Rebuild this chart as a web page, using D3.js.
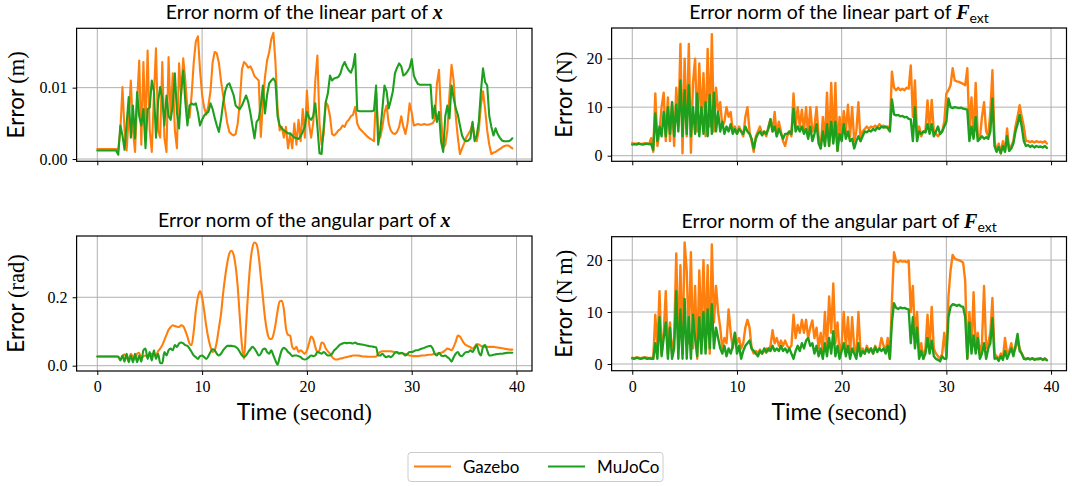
<!DOCTYPE html>
<html><head><meta charset="utf-8">
<script src="https://cdn.jsdelivr.net/npm/d3@7"></script>
<style>html,body{margin:0;padding:0;background:#fff}svg{display:block}</style>
</head><body>
<svg id="chart" width="1072" height="486"></svg>
<script>
// ---- data (sampled every 0.2 s, t = 0 ... 39.6) ----
const sampleTimes = d3.range(0, 39.61, 0.2);
const xTicks = [0, 10, 20, 30, 40];
const yTicksLinX = [0, 0.01];
const yTicksLinF = [0, 10, 20];
const yTicksAngX = [0, 0.2];
const yTicksAngF = [0, 10, 20];
const seriesNames = ["Gazebo", "MuJoCo"];

const linXGazebo = [
0.0014,0.0014,0.0014,0.0014,0.0014,0.0014,0.0014,0.0014,0.0014,0.0014,
0.0014,0.0040,0.0101,0.0040,0.0012,0.0060,0.0110,0.0040,0.0010,0.0080,
0.0138,0.0020,0.0136,0.0040,0.0152,0.0040,0.0010,0.0090,0.0155,0.0040,
0.0030,0.0136,0.0030,0.0010,0.0143,0.0060,0.0120,0.0040,0.0015,0.0134,
0.0090,0.0141,0.0110,0.0070,0.0058,0.0090,0.0135,0.0165,0.0172,0.0125,
0.0090,0.0072,0.0062,0.0075,0.0095,0.0135,0.0150,0.0148,0.0135,0.0110,
0.0090,0.0070,0.0050,0.0038,0.0035,0.0033,0.0035,0.0050,0.0080,0.0125,
0.0136,0.0133,0.0128,0.0130,0.0124,0.0116,0.0113,0.0110,0.0031,0.0080,
0.0115,0.0138,0.0150,0.0168,0.0177,0.0135,0.0070,0.0040,0.0045,0.0030,
0.0045,0.0015,0.0035,0.0015,0.0050,0.0020,0.0055,0.0025,0.0070,0.0030,
0.0096,0.0050,0.0030,0.0050,0.0110,0.0145,0.0050,0.0020,0.0035,0.0080,
0.0075,0.0060,0.0035,0.0033,0.0036,0.0040,0.0042,0.0047,0.0045,0.0052,
0.0055,0.0060,0.0062,0.0073,0.0050,0.0043,0.0040,0.0037,0.0034,0.0031,
0.0029,0.0027,0.0025,0.0094,0.0040,0.0030,0.0045,0.0065,0.0075,0.0050,
0.0040,0.0036,0.0035,0.0038,0.0045,0.0060,0.0045,0.0035,0.0050,0.0078,
0.0065,0.0047,0.0048,0.0049,0.0048,0.0048,0.0049,0.0048,0.0048,0.0049,
0.0050,0.0055,0.0105,0.0125,0.0060,0.0015,0.0020,0.0040,0.0090,0.0132,
0.0110,0.0060,0.0030,0.0007,0.0015,0.0022,0.0030,0.0035,0.0040,0.0050,
0.0030,0.0025,0.0040,0.0075,0.0095,0.0070,0.0040,0.0020,0.0007,0.0009,
0.0010,0.0012,0.0014,0.0016,0.0018,0.0019,0.0019,0.0017,0.0015];

const linXMujoco = [
0.0012,0.0012,0.0012,0.0012,0.0012,0.0012,0.0012,0.0012,0.0012,0.0012,
0.0006,0.0047,0.0033,0.0013,0.0050,0.0087,0.0030,0.0075,0.0029,0.0094,
0.0060,0.0047,0.0070,0.0015,0.0070,0.0072,0.0110,0.0095,0.0030,0.0080,
0.0101,0.0085,0.0047,0.0089,0.0060,0.0055,0.0075,0.0120,0.0065,0.0043,
0.0094,0.0124,0.0080,0.0047,0.0075,0.0078,0.0076,0.0078,0.0065,0.0047,
0.0055,0.0061,0.0064,0.0066,0.0078,0.0070,0.0058,0.0047,0.0038,0.0055,
0.0078,0.0095,0.0104,0.0106,0.0098,0.0090,0.0075,0.0072,0.0070,0.0075,
0.0082,0.0089,0.0080,0.0065,0.0047,0.0029,0.0052,0.0056,0.0075,0.0103,
0.0064,0.0090,0.0106,0.0110,0.0113,0.0108,0.0060,0.0047,0.0043,0.0040,
0.0038,0.0036,0.0036,0.0033,0.0030,0.0029,0.0028,0.0032,0.0038,0.0045,
0.0066,0.0058,0.0055,0.0060,0.0078,0.0045,0.0008,0.0007,0.0045,0.0080,
0.0092,0.0117,0.0110,0.0113,0.0114,0.0115,0.0120,0.0130,0.0136,0.0129,
0.0124,0.0121,0.0129,0.0147,0.0068,0.0067,0.0067,0.0067,0.0067,0.0067,
0.0067,0.0067,0.0068,0.0103,0.0020,0.0040,0.0070,0.0103,0.0095,0.0071,
0.0082,0.0095,0.0120,0.0128,0.0134,0.0130,0.0117,0.0119,0.0123,0.0128,
0.0140,0.0117,0.0110,0.0105,0.0104,0.0104,0.0104,0.0104,0.0104,0.0104,
0.0057,0.0075,0.0052,0.0066,0.0024,0.0010,0.0060,0.0075,0.0057,0.0103,
0.0085,0.0071,0.0062,0.0047,0.0033,0.0027,0.0025,0.0026,0.0029,0.0052,
0.0025,0.0033,0.0052,0.0095,0.0127,0.0108,0.0103,0.0060,0.0045,0.0033,
0.0043,0.0035,0.0030,0.0026,0.0025,0.0025,0.0025,0.0026,0.0029];

const angXGazebo = [
0.027,0.027,0.027,0.027,0.027,0.027,0.027,0.027,0.027,0.027,
0.025,0.018,0.028,0.033,0.022,0.020,0.035,0.025,0.020,0.035,
0.038,0.022,0.028,0.030,0.025,0.030,0.035,0.032,0.030,0.042,
0.050,0.060,0.075,0.090,0.105,0.113,0.118,0.116,0.114,0.113,
0.118,0.115,0.102,0.085,0.065,0.060,0.100,0.160,0.200,0.218,
0.200,0.160,0.115,0.080,0.055,0.040,0.045,0.070,0.110,0.150,
0.210,0.260,0.300,0.328,0.336,0.325,0.290,0.230,0.140,0.060,
0.020,0.120,0.220,0.300,0.345,0.360,0.355,0.320,0.260,0.200,
0.140,0.100,0.080,0.078,0.090,0.120,0.160,0.188,0.190,0.165,
0.110,0.090,0.088,0.055,0.048,0.055,0.040,0.045,0.040,0.035,
0.045,0.065,0.085,0.078,0.055,0.040,0.045,0.068,0.065,0.050,
0.042,0.035,0.026,0.020,0.018,0.019,0.021,0.022,0.024,0.025,
0.027,0.028,0.030,0.030,0.030,0.029,0.028,0.027,0.027,0.026,
0.026,0.026,0.026,0.027,0.035,0.040,0.042,0.042,0.042,0.042,
0.042,0.041,0.040,0.038,0.037,0.036,0.035,0.034,0.032,0.030,
0.029,0.028,0.028,0.028,0.029,0.030,0.030,0.031,0.032,0.032,
0.033,0.034,0.035,0.036,0.038,0.040,0.045,0.050,0.048,0.045,
0.055,0.070,0.088,0.085,0.075,0.065,0.060,0.057,0.054,0.050,
0.055,0.063,0.062,0.058,0.056,0.055,0.055,0.055,0.055,0.055,
0.054,0.053,0.052,0.051,0.050,0.049,0.048,0.047,0.047];

const angXMujoco = [
0.027,0.027,0.027,0.027,0.027,0.027,0.027,0.027,0.027,0.027,
0.027,0.015,0.030,0.012,0.035,0.010,0.030,0.010,0.035,0.010,
0.030,0.012,0.045,0.050,0.020,0.040,0.015,0.045,0.020,0.035,
0.008,0.007,0.040,0.030,0.045,0.050,0.045,0.060,0.055,0.065,
0.068,0.065,0.060,0.058,0.050,0.040,0.030,0.025,0.020,0.028,
0.030,0.025,0.020,0.028,0.040,0.048,0.045,0.035,0.030,0.035,
0.045,0.052,0.058,0.058,0.058,0.057,0.055,0.050,0.040,0.030,
0.025,0.030,0.040,0.048,0.055,0.050,0.040,0.030,0.035,0.048,
0.050,0.040,0.035,0.045,0.030,0.015,0.003,0.025,0.045,0.052,
0.048,0.040,0.035,0.028,0.030,0.030,0.028,0.025,0.020,0.018,
0.020,0.025,0.030,0.028,0.030,0.040,0.038,0.035,0.040,0.035,
0.030,0.030,0.035,0.045,0.050,0.057,0.062,0.065,0.067,0.066,
0.067,0.066,0.065,0.068,0.064,0.063,0.062,0.061,0.060,0.058,
0.057,0.056,0.055,0.054,0.030,0.030,0.035,0.028,0.025,0.028,
0.025,0.030,0.038,0.040,0.035,0.038,0.035,0.030,0.035,0.040,
0.040,0.042,0.045,0.045,0.048,0.050,0.052,0.055,0.057,0.058,
0.050,0.035,0.030,0.038,0.030,0.028,0.030,0.025,0.020,0.012,
0.025,0.035,0.040,0.030,0.028,0.035,0.040,0.040,0.045,0.040,
0.050,0.060,0.040,0.030,0.055,0.060,0.045,0.030,0.030,0.032,
0.033,0.034,0.035,0.035,0.036,0.037,0.038,0.038,0.038];

const linFGazebo = [
2.6,2.5,2.5,2.6,2.4,2.5,2.6,2.5,2.4,3.6,
0.8,12.8,2.0,5.0,10.0,13.0,3.0,12.0,3.0,11.0,
2.0,14.0,6.0,23.0,0.5,20.0,4.0,23.0,0.6,15.0,
20.0,5.0,19.0,7.0,17.0,4.0,22.0,6.0,25.0,5.0,
14.0,9.0,11.0,6.0,7.0,10.0,8.0,9.0,5.0,6.0,
4.5,6.0,5.0,4.0,8.0,10.0,5.0,3.0,0.8,4.0,
5.0,6.0,4.5,5.0,4.0,6.0,7.5,5.0,9.0,4.0,
7.0,5.0,3.0,2.0,4.0,5.0,4.0,12.8,6.0,10.0,
6.0,9.5,5.0,10.0,4.0,10.0,5.0,6.0,10.0,4.0,
1.5,8.0,3.0,13.0,2.0,15.0,3.0,15.0,1.0,8.0,
4.0,9.2,5.0,10.5,4.0,10.0,3.0,5.0,11.0,3.0,
5.0,5.5,6.0,5.5,6.0,5.8,6.2,5.8,6.5,6.0,
6.2,5.8,6.0,5.5,17.3,14.0,13.5,14.0,13.5,13.8,
13.5,14.0,13.8,18.6,8.0,15.5,4.0,6.0,4.0,5.0,
5.0,11.4,5.0,11.5,5.0,4.5,4.0,4.5,5.0,7.0,
12.8,13.5,14.5,18.0,15.5,15.3,15.2,15.0,14.8,14.5,
18.0,5.0,12.0,4.0,15.0,4.0,3.5,8.0,11.0,5.0,
4.0,9.0,17.6,3.0,1.0,2.5,0.5,3.0,1.0,5.6,
1.0,2.0,3.0,6.0,8.0,10.4,8.0,6.0,3.0,3.0,
2.8,3.0,2.7,3.0,2.8,2.9,2.7,3.0,2.5];

const linFMujoco = [
2.3,2.4,2.3,2.5,2.4,2.3,2.4,2.5,2.4,2.4,
1.2,8.7,3.0,6.0,4.0,9.0,4.0,10.0,4.5,11.0,
4.0,10.5,5.0,15.5,4.0,13.5,4.5,14.5,4.0,10.0,
4.5,12.8,4.0,10.0,4.5,11.0,4.0,12.5,4.5,13.0,
5.0,9.0,5.0,7.0,4.5,6.0,5.0,6.5,4.5,5.5,
4.5,5.5,5.0,4.5,6.0,5.0,4.5,3.5,1.5,3.5,
4.5,5.0,4.2,5.0,4.5,5.5,7.5,5.0,6.0,4.0,
5.5,4.5,3.5,4.5,4.5,5.0,4.5,9.7,5.0,6.0,
5.0,6.0,4.5,5.5,3.5,6.0,3.0,4.5,6.5,2.5,
1.5,5.0,2.0,6.5,2.0,7.0,2.5,7.0,1.0,4.5,
3.0,6.5,3.5,5.0,3.0,3.5,1.5,3.0,4.0,3.0,
4.0,5.0,4.8,5.2,5.0,5.5,5.2,5.8,5.5,6.0,
5.8,6.0,5.7,5.0,11.6,8.5,8.3,8.4,8.1,8.2,
7.9,8.0,7.6,7.5,3.0,10.0,3.0,5.0,4.5,5.0,
4.8,6.5,4.5,6.5,4.0,5.0,6.0,4.5,5.0,6.0,
7.0,11.8,10.0,9.8,10.0,9.9,9.8,9.9,9.7,9.6,
9.5,3.0,6.0,3.5,8.0,3.0,3.5,4.0,3.5,3.8,
3.5,5.0,11.8,2.0,0.8,1.8,0.5,2.0,0.8,4.0,
1.0,1.5,2.5,5.0,6.5,8.4,6.0,3.0,2.0,2.2,
1.8,2.1,1.7,2.0,1.8,1.9,1.7,2.0,1.6];

const angFGazebo = [
1.2,1.1,1.3,1.2,1.1,1.2,1.3,1.2,1.1,1.2,
1.0,9.5,3.0,14.0,2.0,6.0,14.0,2.0,8.0,2.0,
5.0,21.3,3.0,19.0,2.0,23.4,18.0,4.0,21.5,3.0,
15.0,1.0,18.0,6.0,20.0,4.0,19.0,2.0,23.0,8.0,
15.0,10.0,7.0,3.0,5.0,4.0,10.5,6.0,3.0,6.0,
4.0,5.0,3.0,4.0,7.0,8.5,7.0,3.0,2.0,2.5,
2.0,2.8,2.0,2.5,3.0,2.5,3.5,6.5,4.0,5.0,
3.5,4.5,3.5,4.5,3.5,3.0,3.5,9.5,5.0,7.5,
6.0,8.5,6.0,8.5,5.0,7.0,8.4,5.0,7.0,3.0,
6.0,2.5,10.0,3.0,13.0,6.0,15.5,4.0,8.0,2.0,
4.0,10.0,3.0,9.0,2.0,9.0,3.0,2.0,10.0,2.5,
3.0,2.0,3.5,2.5,3.0,2.0,3.5,2.5,3.0,5.0,
3.5,2.5,5.0,1.0,12.0,21.5,19.8,19.6,19.9,19.7,
19.8,19.6,19.9,10.0,15.0,5.0,10.0,2.0,4.0,1.0,
3.0,9.5,3.0,11.0,3.0,2.0,1.5,1.0,2.0,6.0,
1.5,13.0,18.0,21.0,20.3,20.1,20.0,19.8,19.5,16.0,
1.0,10.0,3.0,13.8,3.0,6.0,2.0,4.0,15.0,3.0,
4.0,6.0,12.7,2.0,1.5,1.0,2.0,1.2,5.0,2.0,
2.5,4.0,2.0,3.0,4.5,3.0,2.0,1.2,1.0,1.1,
0.9,1.1,1.0,0.9,1.1,1.0,0.9,1.1,0.8];

const angFMujoco = [
1.1,1.0,1.2,1.1,1.0,1.1,1.2,1.0,1.1,1.0,
1.0,4.0,1.0,9.0,1.5,5.0,8.0,1.0,7.0,1.0,
3.0,14.0,1.0,10.5,1.0,12.5,1.0,9.0,1.0,9.5,
5.0,1.5,9.0,2.0,10.0,2.0,10.5,3.0,11.5,3.0,
7.0,5.0,3.0,2.0,3.5,1.5,3.0,2.0,3.5,6.0,
2.0,3.5,1.0,2.5,3.5,4.0,4.5,3.0,2.5,2.0,
1.5,2.5,2.0,3.0,2.2,3.0,2.5,3.5,2.5,3.0,
2.5,3.5,2.5,3.0,2.2,3.0,2.0,1.0,2.5,3.5,
2.5,4.0,3.0,4.5,5.0,3.5,4.0,2.0,3.5,1.5,
3.0,1.0,4.0,1.5,5.0,2.0,6.3,1.5,3.5,1.0,
2.5,4.0,1.5,3.5,1.0,3.0,2.0,1.0,4.0,1.5,
2.5,2.0,3.0,2.2,3.0,2.0,3.2,2.3,3.0,2.5,
3.0,2.0,3.5,1.0,8.0,11.7,10.8,10.6,10.9,10.7,
10.8,10.6,10.5,4.0,9.0,3.0,7.0,1.0,2.5,1.0,
2.0,5.0,2.0,4.5,1.5,1.0,0.8,0.5,1.5,1.0,
1.0,9.0,11.0,11.5,11.4,11.2,11.4,11.1,11.0,9.0,
1.0,8.0,2.0,5.5,2.0,5.0,1.0,2.0,4.0,1.0,
3.0,4.0,8.8,1.0,1.2,0.6,1.5,0.8,2.5,1.0,
2.0,3.0,1.5,3.5,5.8,2.5,2.0,1.0,0.9,1.1,
0.9,1.1,0.8,1.0,0.9,1.1,0.8,1.0,0.7];

// ---- styling / layout ----
const COL_GAZ = "#ff7f0e", COL_MUJ = "#1ea01e";
const SANS = "Lato, 'Open Sans', 'DejaVu Sans', sans-serif";
const SERIF = "'Liberation Serif', 'DejaVu Serif', serif";
const xDomain = [-1.975, 41.475];

const panels = [
  {gaz: linXGazebo, muj: linXMujoco, yDomain: [-0.00032, 0.01832], yTicks: yTicksLinX, fmt: d3.format(".2f"),
   box: [76.6, 28.3, 532, 161.3], title: "Error norm of the linear part of ", sym: "x", sub: null, unit: "(m)", xLabels: false, ylabX: 16, curve: d3.curveLinear, lw: 2.1},
  {gaz: linFGazebo, muj: linFMujoco, yDomain: [-1.15, 26.3], yTicks: yTicksLinF, fmt: d3.format("d"),
   box: [611.6, 28, 1066.5, 161.3], title: "Error norm of the linear part of ", sym: "F", sub: "ext", unit: "(N)", xLabels: false, ylabX: 564, curve: d3.curveLinear, lw: 2.4},
  {gaz: angXGazebo, muj: angXMujoco, yDomain: [-0.0155, 0.379], yTicks: yTicksAngX, fmt: d3.format(".1f"),
   box: [76.6, 236, 532, 371], title: "Error norm of the angular part of ", sym: "x", sub: null, unit: "(rad)", xLabels: true, ylabX: 16, curve: d3.curveMonotoneX, lw: 2.1},
  {gaz: angFGazebo, muj: angFMujoco, yDomain: [-1.29, 24.5], yTicks: yTicksAngF, fmt: d3.format("d"),
   box: [611.6, 236.7, 1066.5, 370.7], title: "Error norm of the angular part of ", sym: "F", sub: "ext", unit: "(N\u2009m)", xLabels: true, ylabX: 564, curve: d3.curveLinear, lw: 2.4}
];

const svg = d3.select("#chart");
svg.append("rect").attr("width", 1072).attr("height", 486).attr("fill", "#fff");
const defs = svg.append("defs");

panels.forEach((p, k) => {
  const [L, T, R, B] = p.box;
  const x = d3.scaleLinear().domain(xDomain).range([L, R]);
  const y = d3.scaleLinear().domain(p.yDomain).range([B, T]);
  const g = svg.append("g");

  // grid
  g.selectAll(".gx").data(xTicks).enter().append("line")
    .attr("x1", d => x(d)).attr("x2", d => x(d)).attr("y1", T).attr("y2", B)
    .attr("stroke", "#b0b0b0").attr("stroke-width", 1);
  g.selectAll(".gy").data(p.yTicks).enter().append("line")
    .attr("x1", L).attr("x2", R).attr("y1", d => y(d)).attr("y2", d => y(d))
    .attr("stroke", "#b0b0b0").attr("stroke-width", 1);

  // clip
  defs.append("clipPath").attr("id", "clip" + k).append("rect")
    .attr("x", L).attr("y", T).attr("width", R - L).attr("height", B - T);

  const line = d3.line().x((d, i) => x(sampleTimes[i])).y(d => y(d)).curve(p.curve);
  const lg = g.append("g").attr("clip-path", `url(#clip${k})`);
  [[p.gaz, COL_GAZ], [p.muj, COL_MUJ]].forEach(([arr, c]) => {
    lg.append("path").datum(arr).attr("d", line).attr("fill", "none")
      .attr("stroke", c).attr("stroke-width", p.lw).attr("stroke-linejoin", "round").attr("stroke-linecap", "round");
  });

  // frame
  g.append("rect").attr("x", L).attr("y", T).attr("width", R - L).attr("height", B - T)
    .attr("fill", "none").attr("stroke", "#000").attr("stroke-width", 1.2);

  // axes
  const ax = d3.axisBottom(x).tickValues(xTicks).tickSize(4).tickPadding(6)
    .tickFormat(p.xLabels ? d3.format("d") : () => "");
  const gx = g.append("g").attr("transform", `translate(0,${B})`).call(ax);
  const ay = d3.axisLeft(y).tickValues(p.yTicks).tickSize(4).tickPadding(5).tickFormat(p.fmt);
  const gy = g.append("g").attr("transform", `translate(${L},0)`).call(ay);
  [gx, gy].forEach(a => {
    a.select(".domain").remove();
    a.selectAll(".tick line").attr("stroke", "#000").attr("stroke-width", 1);
    a.selectAll(".tick text").attr("fill", "#000").style("font-family", SERIF).style("font-size", "16px");
  });

  // title
  const tt = g.append("text").attr("x", (L + R) / 2).attr("y", T - 9).attr("text-anchor", "middle")
    .style("font-family", SANS).style("font-size", "19.5px").attr("fill", "#000");
  tt.append("tspan").text(p.title);
  tt.append("tspan").text(p.sym).style("font-family", SERIF).style("font-weight", "bold").style("font-style", "italic").style("font-size", "20px");
  if (p.sub) tt.append("tspan").text(p.sub).attr("dy", 4).style("font-size", "14px");

  // y label
  const yl = g.append("text").attr("transform", `translate(${p.ylabX + 8},${(T + B) / 2}) rotate(-90)`)
    .attr("text-anchor", "middle").attr("fill", "#000").style("font-size", "22.5px");
  yl.append("tspan").text("Error ").style("font-family", SANS);
  yl.append("tspan").text(p.unit).style("font-family", SERIF);

  // x label
  if (p.xLabels) {
    const xl = g.append("text").attr("x", (L + R) / 2).attr("y", 420).attr("text-anchor", "middle")
      .attr("fill", "#000").style("font-size", "23px");
    xl.append("tspan").text("Time ").style("font-family", SANS);
    xl.append("tspan").text("(second)").style("font-family", SERIF);
  }
});

// legend
const leg = svg.append("g");
leg.append("rect").attr("x", 408).attr("y", 452.5).attr("width", 255).attr("height", 29).attr("rx", 3)
  .attr("fill", "#fff").attr("stroke", "#cccccc").attr("stroke-width", 1);
const legItems = [{name: seriesNames[0], c: COL_GAZ, x0: 414}, {name: seriesNames[1], c: COL_MUJ, x0: 548}];
legItems.forEach(it => {
  leg.append("line").attr("x1", it.x0).attr("x2", it.x0 + 37).attr("y1", 466.5).attr("y2", 466.5)
    .attr("stroke", it.c).attr("stroke-width", 2.1);
  leg.append("text").attr("x", it.x0 + 49).attr("y", 472.5).text(it.name)
    .style("font-family", SANS).style("font-size", "17px").attr("fill", "#000");
});
</script>
</body></html>
